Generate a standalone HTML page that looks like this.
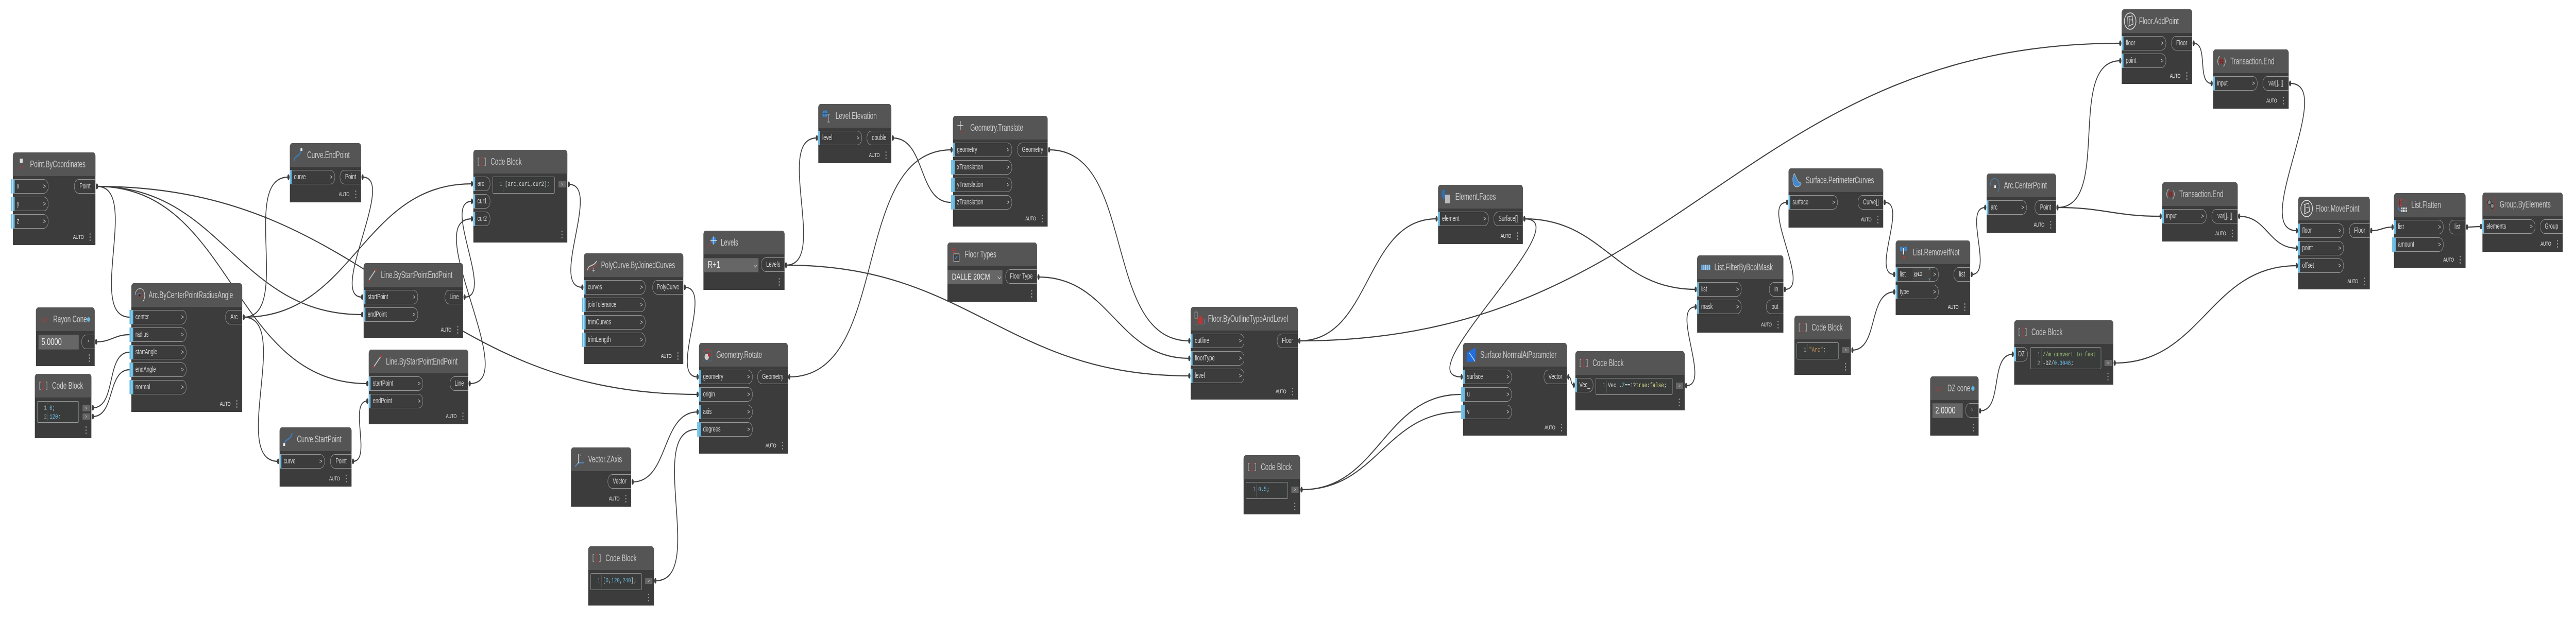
<!DOCTYPE html>
<html><head><meta charset="utf-8"><title>Dynamo graph</title>
<style>
html,body{margin:0;padding:0;background:#fff;overflow:hidden;width:100%;height:100%}
#root{position:fixed;left:0;top:0;width:100vw;height:100vh;display:block}
#g{position:relative;width:7020px;height:1208px;overflow:hidden;background:#fff;font-family:"Liberation Sans",sans-serif}
#w{position:absolute;left:0;top:0}
#w path{fill:none;stroke:#3f3f3f;stroke-width:2.2;marker-start:url(#m)}
#w path.a{marker-end:url(#m)}
.n{position:absolute;background:#3c3c3c;border-radius:7px 7px 0 0;font-size:14.5px;color:#d6d6d6}
.t{height:46px;background:#555;border-radius:7px 7px 0 0;position:relative}
.t span{position:absolute;left:47px;top:0;font-size:18px;line-height:46px;white-space:nowrap;color:#ccc;transform:scaleX(.92);transform-origin:0 0}
.t b{position:absolute;width:9px;height:9px;border-radius:50%;background:#62b9e4;top:19px}
.ic{position:absolute;left:8px;top:8px;width:30px;height:30px}
.p{position:absolute;left:0;top:52px}
.i{position:relative;height:28px;margin-bottom:6px;box-sizing:border-box;border:1px solid #999;border-left:5px solid #68bde6;border-radius:0 13px 13px 0;padding-left:6px;line-height:26px}
.i:after{content:">";position:absolute;right:6px;top:0;font-size:13px}
.i.x:after{content:""}
.i span{display:inline-block;transform:scaleX(.91);transform-origin:0 50%;white-space:nowrap}
.u:before{content:"";position:absolute;left:-10px;top:-1px;width:4px;height:28px;background:#68bde6}
.o{position:absolute;right:0;top:52px;height:28px;box-sizing:border-box;border:1px solid #999;border-right:0;border-radius:13px 0 0 13px;line-height:26px;text-align:center;white-space:nowrap}
.o span{display:inline-block;transform:scaleX(.91)}
.o.s{font-size:10px}
.a{position:absolute;bottom:8px;right:32px;font-size:11px;line-height:14px;color:#eee;letter-spacing:-.4px}
.d{position:absolute;right:13px;bottom:14px;width:3px;height:3px;border-radius:50%;background:#999;box-shadow:0 -6px #999,0 6px #999}
.c{position:absolute;box-sizing:border-box;border:1px solid #999;border-radius:3px;background:#3a3c3c;font:12.7px/17px "Liberation Mono",monospace;color:#d8d8d8;padding:5px 0 0 33px;white-space:pre}
.c:before{content:"";position:absolute;left:28px;top:3px;bottom:3px;border-left:1px dotted #777}
.c div{position:relative}
.c i{position:absolute;left:-15px;font-style:normal;color:#999}
.c em{font-style:normal;color:#68bde6}
.b{position:absolute;width:20px;height:12px;background:#666;color:#ddd;font-size:9px;line-height:12px;text-align:center}
.v{position:absolute;background:#666;color:#eee;font-size:18px;box-sizing:border-box;border:1px solid #5a5a5a;white-space:nowrap}
.ch{position:absolute;left:137px;top:9px;width:6px;height:6px;border-right:1.5px solid #ddd;border-bottom:1.5px solid #ddd;transform:rotate(45deg)}
</style></head><body>
<svg id="root" viewBox="0 0 7020 1208" preserveAspectRatio="none">
<foreignObject x="0" y="0" width="7020" height="1208">
<div id="g">
<svg width="0" height="0" style="position:absolute">
<defs>
<symbol id="cb" viewBox="0 0 30 30"><path d="M8 8H5V22H8M22 8H25V22H22" fill="none" stroke="#aaa" stroke-width="1.4"/><path d="M12 7H18M12 23H18M15 7V23" fill="none" stroke="#b03a3a" stroke-width="1.6"/></symbol>
<symbol id="xyz" viewBox="0 0 30 30"><rect x="11" y="4" width="8" height="8" rx="1" fill="#ddd"/><text x="6" y="25" font-size="9" font-weight="bold" font-family="Liberation Sans" fill="#8a4545">XYZ</text></symbol>
<symbol id="n123" viewBox="0 0 30 30"><text x="5" y="20" font-size="11" font-weight="bold" font-family="Liberation Sans" fill="#8a4545">123</text></symbol>
<symbol id="arc" viewBox="0 0 30 30"><path d="M2 15A14 14 0 0 1 24 5" fill="none" stroke="#bbb" stroke-width="1.5"/><path d="M24 5A16 16 0 0 1 23 28" fill="none" stroke="#ccc" stroke-width="1.5"/><path d="M8 15A7 7 0 0 1 18 13" fill="none" stroke="#3a7fc0" stroke-width="1.5"/><path d="M18 22A8 8 0 0 0 20 16M15 15L25 5" fill="none" stroke="#a04040" stroke-width="1.2"/><rect x="12" y="13" width="5" height="5" fill="#222" stroke="#b03a3a"/></symbol>
<symbol id="ce" viewBox="0 0 30 30"><path d="M3 27C4 15 18 20 22 7" fill="none" stroke="#3a7fc0" stroke-width="2.6"/><rect x="21" y="2" width="5" height="5" fill="#eee"/></symbol>
<symbol id="cs" viewBox="0 0 30 30"><path d="M5 24C8 13 22 18 26 3" fill="none" stroke="#3a7fc0" stroke-width="2.6"/><rect x="2" y="23" width="5" height="5" fill="#eee"/></symbol>
<symbol id="ln" viewBox="0 0 30 30"><path d="M5 26L25 5" stroke="#ccc" stroke-width="2"/><circle cx="5" cy="26" r="2.2" fill="#b03a3a"/><circle cx="25" cy="5" r="2.2" fill="#b03a3a"/></symbol>
<symbol id="pc" viewBox="0 0 30 30"><path d="M2 25C5 12 16 20 27 7" fill="none" stroke="#ccc" stroke-width="2"/><path d="M6 27C9 17 18 23 28 12" fill="none" stroke="#a04848" stroke-width="1.6"/><path d="M15 25H22M18.500 21V29" stroke="#ddd"/></symbol>
<symbol id="lv" viewBox="0 0 30 30"><path d="M2 25L15 12" stroke="#a04040" stroke-width="1.6"/><circle cx="20" cy="11" r="7" fill="#3f88d0"/><path d="M11 11H29M20 2V20" stroke="#eee" stroke-width="1.3"/></symbol>
<symbol id="rt" viewBox="0 0 30 30"><rect x="3" y="9" width="24" height="18" fill="none" stroke="#3a7fc0" stroke-dasharray="2 2"/><circle cx="13" cy="19" r="6" fill="#ccc"/><circle cx="20" cy="15" r="4" fill="#b03030"/><path d="M5 12C8 3 18 3 24 9" fill="none" stroke="#a04040" stroke-width="2"/></symbol>
<symbol id="vz" viewBox="0 0 30 30"><path d="M12 22V5M12 22H28M12 22L3 29" stroke="#ddd" stroke-width="1.6" fill="none"/><path d="M14 22H28M10 23L3 29" stroke="#3f88d0" stroke-width="1.6"/><text x="16" y="9" font-size="9" font-family="Liberation Sans" fill="#aaa">z</text></symbol>
<symbol id="le" viewBox="0 0 30 30"><circle cx="10" cy="11" r="7" fill="#3f88d0"/><path d="M10 2V20M2 11H18" stroke="#222"/><path d="M17 13H23M17 27H23M20 13V27" stroke="#aaa" stroke-width="1.4"/></symbol>
<symbol id="tr" viewBox="0 0 30 30"><path d="M12 2V20M4 11H20" stroke="#ddd" stroke-width="1.5"/><text x="12" y="28" font-size="8" font-family="Liberation Sans" fill="#8a4545">XYZ</text></symbol>
<symbol id="ft" viewBox="0 0 30 30"><path d="M3 3H14M3 7H14M3 11H14" stroke="#a04040" stroke-width="2"/><path d="M3 14V27H10" fill="none" stroke="#a04040" stroke-dasharray="1 1"/><rect x="9" y="14" width="15" height="15" fill="#444" stroke="#ddd"/><path d="M13 24L19 18" stroke="#3f88d0" stroke-width="2"/></symbol>
<symbol id="fl" viewBox="0 0 30 30"><path d="M3 2H10V14H3Z" fill="none" stroke="#aaa"/><path d="M18 8L28 18H25V25H11V18H8Z" fill="#b03a3a"/><path d="M6 14V27H26" fill="none" stroke="#aaa" stroke-dasharray="1 2"/><path d="M29 16V26" stroke="#3f88d0" stroke-width="1.5"/></symbol>
<symbol id="fa" viewBox="0 0 30 30"><path d="M2 3L11 1V17L7 20L2 15Z" fill="#2f6fb0"/><rect x="11" y="11" width="13" height="17" rx="1" fill="#bbb"/></symbol>
<symbol id="no" viewBox="0 0 30 30"><path d="M2 11L26 1V22L24 28L2 29Z" fill="#1f6fe0"/><path d="M9 11L25 28" stroke="#eee" stroke-width="1.4"/></symbol>
<symbol id="lf" viewBox="0 0 30 30"><rect x="3" y="10" width="25" height="10" fill="#5a9ad0"/><path d="M5 10V20M10 10V20M15 10V20M20 10V20M26 10V20" stroke="#ddd" stroke-width="1.2"/></symbol>
<symbol id="pe" viewBox="0 0 30 30"><path d="M8 2C2 8 2 22 10 27C18 30 28 24 26 20C18 22 14 10 8 2Z" fill="#3f88d0" stroke="#bbb" stroke-width="1.3"/></symbol>
<symbol id="rm" viewBox="0 0 30 30"><rect x="4" y="4" width="18" height="9" fill="#3f88d0"/><rect x="11" y="6" width="4" height="14" fill="#eee" stroke="#333"/><path d="M11 22L18 28M18 22L11 28" stroke="#a04040" stroke-width="2"/></symbol>
<symbol id="ac" viewBox="0 0 30 30"><path d="M2 16A12 12 0 0 1 22 5A18 18 0 0 1 22 28" fill="none" stroke="#4a80b0" stroke-width="1.4"/><rect x="13" y="15" width="4" height="5" fill="#eee"/></symbol>
<symbol id="fc" viewBox="0 0 30 30"><circle cx="15" cy="15" r="14" fill="none" stroke="#ddd" stroke-width="1.6"/><path d="M9 8L20 6L22 20L10 24Z" fill="none" stroke="#ddd" stroke-width="1.4"/><path d="M13 9V21M13 13H20" stroke="#ddd"/></symbol>
<symbol id="te" viewBox="0 0 30 30"><path d="M10 5A12 12 0 0 0 7 22M20 25A12 12 0 0 0 23 8" fill="none" stroke="#bbb" stroke-width="1.5"/><circle cx="15" cy="15" r="6" fill="#a83030"/><path d="M10 13H20M10 17H20M13 10V20M17 10V20" stroke="#333"/></symbol>
<symbol id="lt" viewBox="0 0 30 30"><path d="M3 4H14V18H3Z" fill="#a04848"/><path d="M3 8H14M3 12H14M7 4V18M11 4V18" stroke="#3c3c3c"/><path d="M22 4V12" stroke="#a04848" stroke-width="1.5"/><path d="M4 20C5 26 8 26 11 26" fill="none" stroke="#3f88d0" stroke-width="2"/><rect x="12" y="20" width="15" height="9" fill="#ddd"/><path d="M12 24H27M16 20V29M20 20V29M24 20V29" stroke="#444"/></symbol>
<symbol id="gr" viewBox="0 0 30 30"><path d="M8 2H3V28H8M22 2H27V28H22" fill="none" stroke="#8a4545" stroke-width="1.6"/><circle cx="11" cy="11" r="4.500" fill="#888" stroke="#222"/><circle cx="19" cy="18" r="4.500" fill="#888" stroke="#222"/></symbol>
</defs></svg>

<svg id="w" width="7020" height="1208">
<defs><marker id="m" markerWidth="6" markerHeight="12" refX="3" refY="6" markerUnits="userSpaceOnUse"><ellipse cx="3" cy="6" rx="3" ry="5.500" fill="#3f3f3f"/></marker></defs>
<path d="M264 362C385 362 233 616 354 616"/>
<path class="a" d="M264 362C608 362 643 611 987 611"/>
<path class="a" d="M264 362C638 362 627 745 1001 745"/>
<path class="a" d="M264 362C1023 362 1142 766 1901 766"/>
<path d="M262 664C303 664 312 650 353 650"/>
<path d="M253 792C319 792 287 684 353 684"/>
<path d="M253 809C314 809 292 718 353 718"/>
<path class="a" d="M664 616C798 616 652 344 786 344"/>
<path class="a" d="M664 616C797 616 625 896 758 896"/>
<path class="a" d="M664 616C967 616 983 357 1286 357"/>
<path class="a" d="M988 344C1083 344 892 577 987 577"/>
<path class="a" d="M962 896C1014 896 949 779 1001 779"/>
<path class="a" d="M1266 577C1350 577 1202 391 1286 391"/>
<path class="a" d="M1280 745C1424 745 1142 425 1286 425"/>
<path class="a" d="M1550 358C1641 358 1496 558 1587 558"/>
<path class="a" d="M1866 558C1946 558 1821 732 1901 732"/>
<path class="a" d="M1724 936C1824 936 1801 800 1901 800"/>
<path d="M1786 1128C1928 1128 1757 834 1899 834"/>
<path class="a" d="M2142 515C2259 515 2109 268 2226 268"/>
<path class="a" d="M2142 515C2646 515 2737 730 3241 730"/>
<path d="M2433 268C2524 268 2500 393 2591 393"/>
<path class="a" d="M2151 732C2432 732 2312 291 2593 291"/>
<path class="a" d="M2859 291C3099 291 3001 662 3241 662"/>
<path class="a" d="M2830 538C3028 538 3043 696 3241 696"/>
<path class="a" d="M3541 662C3740 662 3716 425 3915 425"/>
<path class="a" d="M3541 662C4581 662 4738 84 5778 84"/>
<path class="a" d="M4154 425C4312 425 3825 732 3983 732"/>
<path class="a" d="M4154 425C4373 425 4402 562 4621 562"/>
<path d="M3547 951C3759 951 3769 766 3981 766"/>
<path d="M3547 951C3754 951 3774 800 3981 800"/>
<path class="a" d="M4274 732C4284 732 4279 748 4289 748"/>
<path class="a" d="M4595 749C4665 749 4551 596 4621 596"/>
<path class="a" d="M4864 562C4940 562 4794 393 4870 393"/>
<path class="a" d="M5136 393C5200 393 5098 533 5162 533"/>
<path class="a" d="M5048 680C5120 680 5090 567 5162 567"/>
<path class="a" d="M5373 533C5434 533 5349 403 5410 403"/>
<path class="a" d="M5607 403C5757 403 5628 118 5778 118"/>
<path class="a" d="M5607 403C5734 403 5761 420 5888 420"/>
<path class="a" d="M5978 84C6019 84 5986 162 6027 162"/>
<path class="a" d="M6241 162C6370 162 6130 448 6259 448"/>
<path class="a" d="M6102 420C6178 420 6183 482 6259 482"/>
<path class="a" d="M5763 705C6002 705 6020 516 6259 516"/>
<path class="a" d="M6462 448C6488 448 6494 441 6520 441"/>
<path class="a" d="M6723 441C6740 441 6744 440 6761 440"/>
<path class="a" d="M5396 798C5460 798 5421 688 5485 688"/>
</svg>

<div class="n" style="left:35px;top:296px;width:225px;height:180px"><div class="t"><svg class="ic"><use href="#xyz"/></svg><span>Point.ByCoordinates</span></div><div class="p" style="width:97px"><div class="i u"><span>x</span></div><div class="i u"><span>y</span></div><div class="i u"><span>z</span></div></div><div class="o" style="width:58px"><span>Point</span></div><div class="a">AUTO</div><div class="d"></div></div>

<div class="n" style="left:358px;top:550px;width:302px;height:250px"><div class="t"><svg class="ic"><use href="#arc"/></svg><span>Arc.ByCenterPointRadiusAngle</span></div><div class="p" style="width:150px"><div class="i u"><span>center</span></div><div class="i u"><span>radius</span></div><div class="i u"><span>startAngle</span></div><div class="i u"><span>endAngle</span></div><div class="i u"><span>normal</span></div></div><div class="o" style="width:46px"><span>Arc</span></div><div class="a">AUTO</div><div class="d"></div></div>

<div class="n" style="left:98px;top:597px;width:160px;height:114px"><div class="t"><svg class="ic"><use href="#n123"/></svg><span>Rayon Cone</span><b style="left:139px"></b></div><div class="v" style="left:7px;top:53px;width:110px;height:29px;padding-left:7px;line-height:26px">5.0000</div><div class="o s" style="width:36px;top:53px"><span>&gt;</span></div><div class="d"></div></div>

<div class="n" style="left:95px;top:726px;width:154px;height:125px"><div class="t"><svg class="ic"><use href="#cb"/></svg><span>Code Block</span></div><div class="c" style="left:6px;top:53px;width:114px;height:42px;padding-top:4px"><div><i>1</i><em>0</em>;</div><div><i>2</i><em>120</em>;</div></div><div class="b" style="left:130px;top:61px">&gt;</div><div class="b" style="left:130px;top:77px">&gt;</div><div class="d"></div></div>

<div class="n" style="left:790px;top:278px;width:194px;height:115px"><div class="t"><svg class="ic"><use href="#ce"/></svg><span>Curve.EndPoint</span></div><div class="p" style="width:123px"><div class="i"><span>curve</span></div></div><div class="o" style="width:58px"><span>Point</span></div><div class="a">AUTO</div><div class="d"></div></div>

<div class="n" style="left:1290px;top:291px;width:256px;height:180px"><div class="t"><svg class="ic"><use href="#cb"/></svg><span>Code Block</span></div><div class="p" style="width:46px"><div class="i x"><span>arc</span></div><div class="i x"><span>cur1</span></div><div class="i x"><span>cur2</span></div></div><div class="c" style="left:52px;top:52px;width:170px;height:33px"><div><i>1</i>[arc,cur1,cur2];</div></div><div class="b" style="left:232px;top:61px">&gt;</div><div class="d"></div></div>

<div class="n" style="left:991px;top:511px;width:271px;height:145px"><div class="t"><svg class="ic"><use href="#ln"/></svg><span>Line.ByStartPointEndPoint</span></div><div class="p" style="width:148px"><div class="i"><span>startPoint</span></div><div class="i"><span>endPoint</span></div></div><div class="o" style="width:50px"><span>Line</span></div><div class="a">AUTO</div><div class="d"></div></div>

<div class="n" style="left:1005px;top:679px;width:271px;height:145px"><div class="t"><svg class="ic"><use href="#ln"/></svg><span>Line.ByStartPointEndPoint</span></div><div class="p" style="width:148px"><div class="i"><span>startPoint</span></div><div class="i"><span>endPoint</span></div></div><div class="o" style="width:50px"><span>Line</span></div><div class="a">AUTO</div><div class="d"></div></div>

<div class="n" style="left:762px;top:830px;width:196px;height:115px"><div class="t"><svg class="ic"><use href="#cs"/></svg><span>Curve.StartPoint</span></div><div class="p" style="width:123px"><div class="i"><span>curve</span></div></div><div class="o" style="width:58px"><span>Point</span></div><div class="a">AUTO</div><div class="d"></div></div>

<div class="n" style="left:1591px;top:492px;width:271px;height:215px"><div class="t"><svg class="ic"><use href="#pc"/></svg><span>PolyCurve.ByJoinedCurves</span></div><div class="p" style="width:168px"><div class="i"><span>curves</span></div><div class="i u"><span>joinTolerance</span></div><div class="i u"><span>trimCurves</span></div><div class="i u"><span>trimLength</span></div></div><div class="o" style="width:84px"><span>PolyCurve</span></div><div class="a">AUTO</div><div class="d"></div></div>

<div class="n" style="left:1917px;top:448px;width:221px;height:115px"><div class="t"><svg class="ic"><use href="#lv"/></svg><span>Levels</span></div><div class="v" style="left:0;top:53px;width:150px;height:28px;padding-left:11px;line-height:25px">R+1<div class="ch"></div></div><div class="o" style="width:64px"><span>Levels</span></div><div class="d"></div></div>

<div class="n" style="left:1905px;top:666px;width:242px;height:215px"><div class="t"><svg class="ic"><use href="#rt"/></svg><span>Geometry.Rotate</span></div><div class="p" style="width:146px"><div class="i"><span>geometry</span></div><div class="i"><span>origin</span></div><div class="i"><span>axis</span></div><div class="i u"><span>degrees</span></div></div><div class="o" style="width:83px"><span>Geometry</span></div><div class="a">AUTO</div><div class="d"></div></div>

<div class="n" style="left:1556px;top:869px;width:164px;height:115px"><div class="t"><svg class="ic"><use href="#vz"/></svg><span>Vector.ZAxis</span></div><div class="o" style="width:64px"><span>Vector</span></div><div class="a">AUTO</div><div class="d"></div></div>

<div class="n" style="left:1603px;top:1061px;width:179px;height:115px"><div class="t"><svg class="ic"><use href="#cb"/></svg><span>Code Block</span></div><div class="c" style="left:6px;top:52px;width:140px;height:33px"><div><i>1</i>[<em>0</em>,<em>120</em>,<em>240</em>];</div></div><div class="b" style="left:155px;top:61px">&gt;</div><div class="d"></div></div>

<div class="n" style="left:2230px;top:202px;width:199px;height:115px"><div class="t"><svg class="ic"><use href="#le"/></svg><span>Level.Elevation</span></div><div class="p" style="width:119px"><div class="i"><span>level</span></div></div><div class="o" style="width:67px"><span>double</span></div><div class="a">AUTO</div><div class="d"></div></div>

<div class="n" style="left:2597px;top:225px;width:258px;height:215px"><div class="t"><svg class="ic"><use href="#tr"/></svg><span>Geometry.Translate</span></div><div class="p" style="width:161px"><div class="i"><span>geometry</span></div><div class="i u"><span>xTranslation</span></div><div class="i u"><span>yTranslation</span></div><div class="i u"><span>zTranslation</span></div></div><div class="o" style="width:83px"><span>Geometry</span></div><div class="a">AUTO</div><div class="d"></div></div>

<div class="n" style="left:2582px;top:471px;width:244px;height:115px"><div class="t"><svg class="ic"><use href="#ft"/></svg><span>Floor Types</span></div><div class="v" style="left:0;top:53px;width:150px;height:28px;padding-left:11px;line-height:25px;font-size:17px">DALLE 20CM<div class="ch"></div></div><div class="o" style="width:86px"><span>Floor Type</span></div><div class="d"></div></div>

<div class="n" style="left:3245px;top:596px;width:292px;height:180px"><div class="t"><svg class="ic"><use href="#fl"/></svg><span>Floor.ByOutlineTypeAndLevel</span></div><div class="p" style="width:146px"><div class="i"><span>outline</span></div><div class="i"><span>floorType</span></div><div class="i"><span>level</span></div></div><div class="o" style="width:57px"><span>Floor</span></div><div class="a">AUTO</div><div class="d"></div></div>

<div class="n" style="left:3389px;top:884px;width:154px;height:115px"><div class="t"><svg class="ic"><use href="#cb"/></svg><span>Code Block</span></div><div class="c" style="left:6px;top:52px;width:115px;height:33px"><div><i>1</i><em>0.5</em>;</div></div><div class="b" style="left:130px;top:61px">&gt;</div><div class="d"></div></div>

<div class="n" style="left:3919px;top:359px;width:231px;height:115px"><div class="t"><svg class="ic"><use href="#fa"/></svg><span>Element.Faces</span></div><div class="p" style="width:138px"><div class="i"><span>element</span></div></div><div class="o" style="width:80px"><span>Surface[]</span></div><div class="a">AUTO</div><div class="d"></div></div>

<div class="n" style="left:3987px;top:666px;width:283px;height:180px"><div class="t"><svg class="ic"><use href="#no"/></svg><span>Surface.NormalAtParameter</span></div><div class="p" style="width:133px"><div class="i"><span>surface</span></div><div class="i u"><span>u</span></div><div class="i u"><span>v</span></div></div><div class="o" style="width:63px"><span>Vector</span></div><div class="a">AUTO</div><div class="d"></div></div>

<div class="n" style="left:4293px;top:682px;width:298px;height:115px"><div class="t"><svg class="ic"><use href="#cb"/></svg><span>Code Block</span></div><div class="p" style="width:49px"><div class="i x"><span>Vec_</span></div></div><div class="c" style="left:55px;top:52px;width:210px;height:33px"><div><i>1</i>Vec_.<span style="color:#5fc8b8">Z</span>==<em>1</em>?<span style="color:#e8e88a">true</span>:<span style="color:#e8e88a">false</span>;</div></div><div class="b" style="left:274px;top:61px">&gt;</div><div class="d"></div></div>

<div class="n" style="left:4625px;top:496px;width:235px;height:150px"><div class="t"><svg class="ic"><use href="#lf"/></svg><span>List.FilterByBoolMask</span></div><div class="p" style="width:121px"><div class="i"><span>list</span></div><div class="i"><span>mask</span></div></div><div class="o" style="width:39px"><span>in</span></div><div class="o" style="width:47px;top:86px"><span>out</span></div><div class="a">AUTO</div><div class="d"></div></div>

<div class="n" style="left:4874px;top:327px;width:258px;height:115px"><div class="t"><svg class="ic"><use href="#pe"/></svg><span>Surface.PerimeterCurves</span></div><div class="p" style="width:134px"><div class="i"><span>surface</span></div></div><div class="o" style="width:69px"><span>Curve[]</span></div><div class="a">AUTO</div><div class="d"></div></div>

<div class="n" style="left:5166px;top:467px;width:203px;height:145px"><div class="t"><svg class="ic"><use href="#rm"/></svg><span>List.RemoveIfNot</span></div><div class="p" style="width:117px"><div class="i"><span>list</span><div style="position:absolute;left:41px;top:1px;width:50px;height:24px;background:#444;font-size:11px;line-height:24px;padding-left:3px;box-sizing:border-box;color:#eee">@L2<span style="position:absolute;right:2px;top:-6px;color:#68bde6;font-size:9px;line-height:18px">^<br>v</span></div></div><div class="i"><span>type</span></div></div><div class="o" style="width:45px"><span>list</span></div><div class="a">AUTO</div><div class="d"></div></div>

<div class="n" style="left:4890px;top:613px;width:154px;height:115px"><div class="t"><svg class="ic"><use href="#cb"/></svg><span>Code Block</span></div><div class="c" style="left:6px;top:52px;width:115px;height:33px"><div><i>1</i><span style="color:#d69a5a">"Arc"</span>;</div></div><div class="b" style="left:130px;top:61px">&gt;</div><div class="d"></div></div>

<div class="n" style="left:5414px;top:337px;width:189px;height:115px"><div class="t"><svg class="ic"><use href="#ac"/></svg><span>Arc.CenterPoint</span></div><div class="p" style="width:109px"><div class="i"><span>arc</span></div></div><div class="o" style="width:58px"><span>Point</span></div><div class="a">AUTO</div><div class="d"></div></div>

<div class="n" style="left:5782px;top:18px;width:192px;height:145px"><div class="t"><svg class="ic" style="left:6px;top:6px;width:34px;height:34px"><use href="#fc"/></svg><span>Floor.AddPoint</span></div><div class="p" style="width:121px"><div class="i"><span>floor</span></div><div class="i"><span>point</span></div></div><div class="o" style="width:57px"><span>Floor</span></div><div class="a">AUTO</div><div class="d"></div></div>

<div class="n" style="left:6031px;top:96px;width:206px;height:115px"><div class="t"><svg class="ic"><use href="#te"/></svg><span>Transaction.End</span></div><div class="p" style="width:121px"><div class="i"><span>input</span></div></div><div class="o" style="width:71px"><span>var[]..[]</span></div><div class="a">AUTO</div><div class="d"></div></div>

<div class="n" style="left:5892px;top:354px;width:206px;height:115px"><div class="t"><svg class="ic"><use href="#te"/></svg><span>Transaction.End</span></div><div class="p" style="width:121px"><div class="i"><span>input</span></div></div><div class="o" style="width:71px"><span>var[]..[]</span></div><div class="a">AUTO</div><div class="d"></div></div>

<div class="n" style="left:6263px;top:382px;width:195px;height:180px"><div class="t"><svg class="ic" style="left:6px;top:6px;width:34px;height:34px"><use href="#fc"/></svg><span>Floor.MovePoint</span></div><div class="p" style="width:124px"><div class="i"><span>floor</span></div><div class="i"><span>point</span></div><div class="i"><span>offset</span></div></div><div class="o" style="width:56px"><span>Floor</span></div><div class="a">AUTO</div><div class="d"></div></div>

<div class="n" style="left:6524px;top:375px;width:195px;height:145px"><div class="t"><svg class="ic"><use href="#lt"/></svg><span>List.Flatten</span></div><div class="p" style="width:135px"><div class="i"><span>list</span></div><div class="i u"><span>amount</span></div></div><div class="o" style="width:45px"><span>list</span></div><div class="a">AUTO</div><div class="d"></div></div>

<div class="n" style="left:6765px;top:374px;width:219px;height:115px"><div class="t"><svg class="ic"><use href="#gr"/></svg><span>Group.ByElements</span></div><div class="p" style="width:144px"><div class="i"><span>elements</span></div></div><div class="o" style="width:62px"><span>Group</span></div><div class="a">AUTO</div><div class="d"></div></div>

<div class="n" style="left:5489px;top:622px;width:270px;height:125px"><div class="t"><svg class="ic"><use href="#cb"/></svg><span>Code Block</span></div><div class="p" style="width:37px"><div class="i x"><span>DZ</span></div></div><div class="c" style="left:44px;top:52px;width:193px;height:43px"><div><i>1</i><span style="color:#a5d07a">//m convert to feet</span></div><div><i>2</i>-DZ/<em>0.3048</em>;</div></div><div class="b" style="left:246px;top:77px">&gt;</div><div class="d"></div></div>

<div class="n" style="left:5260px;top:731px;width:132px;height:115px"><div class="t"><svg class="ic"><use href="#n123"/></svg><span>DZ cone</span><b style="left:112px"></b></div><div class="v" style="left:6px;top:52px;width:83px;height:29px;padding-left:7px;line-height:26px">2.0000</div><div class="o s" style="width:36px"><span>&gt;</span></div><div class="d"></div></div>
</div>
</foreignObject>
</svg>
</body></html>
